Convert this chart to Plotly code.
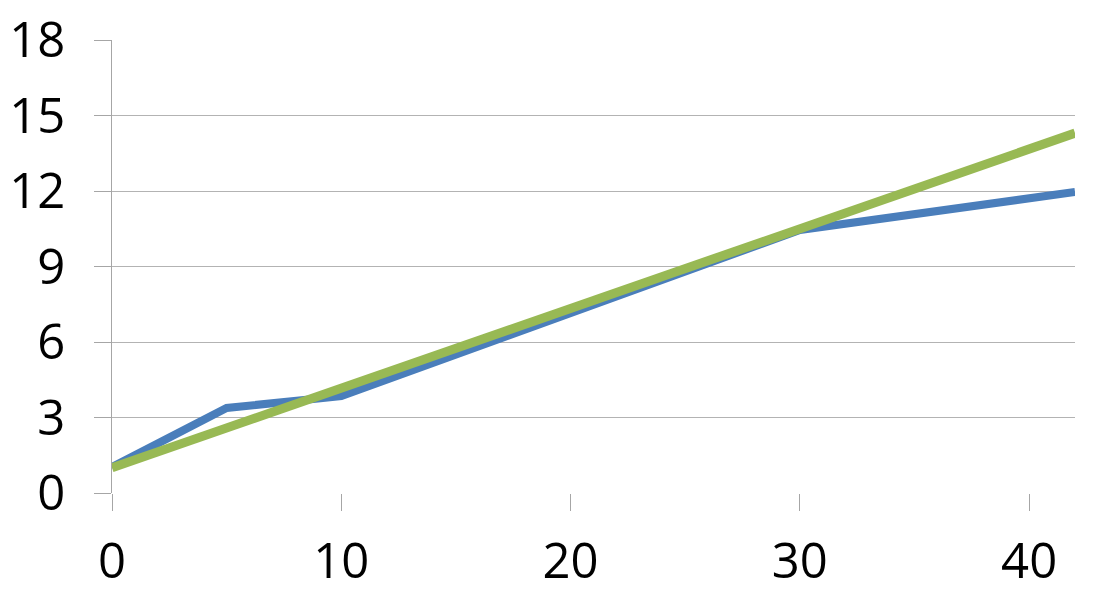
import plotly.graph_objects as go

# Data
series_x = [0, 5, 10, 30, 42]
series_y = [1.03, 3.38, 3.85, 10.45, 11.96]
trend_x = [0, 42]
trend_y = [1.0, 14.3]
x_ticks = [0, 10, 20, 30, 40]
y_ticks = [0, 3, 6, 9, 12, 15, 18]

fig = go.Figure()
fig.add_trace(go.Scatter(x=series_x, y=series_y, mode="lines",
                         line=dict(color="#4a7ebb", width=8), showlegend=False))
fig.add_trace(go.Scatter(x=trend_x, y=trend_y, mode="lines",
                         line=dict(color="#98b954", width=9), showlegend=False))

font = dict(family="Open Sans, Lato, sans-serif", size=49, color="#000000")
fig.update_layout(
    width=1117, height=601,
    margin=dict(l=112, r=42, t=40, b=108, autoexpand=False),
    paper_bgcolor="white", plot_bgcolor="white",
    font=font,
)
fig.update_xaxes(range=[0, 42], tickvals=x_ticks, showgrid=False,
                 showline=False, zeroline=False, automargin=False,
                 ticks="outside", ticklen=17, tickcolor="#a6a6a6", tickwidth=1,
                 ticklabelstandoff=8, ticklabeloverflow="allow", tickfont=font)
fig.update_yaxes(range=[0, 18], tickvals=y_ticks, showgrid=True,
                 gridcolor="#b3b3b3", gridwidth=1,
                 showline=True, linecolor="#a6a6a6", linewidth=1,
                 zeroline=False, automargin=False,
                 ticks="outside", ticklen=17, tickcolor="#a6a6a6", tickwidth=1,
                 ticklabelstandoff=19, ticklabeloverflow="allow", tickfont=font)

fig.write_html("out.html", config={"displayModeBar": False},
               post_script="document.body.style.margin='0';document.body.style.overflow='hidden';")
